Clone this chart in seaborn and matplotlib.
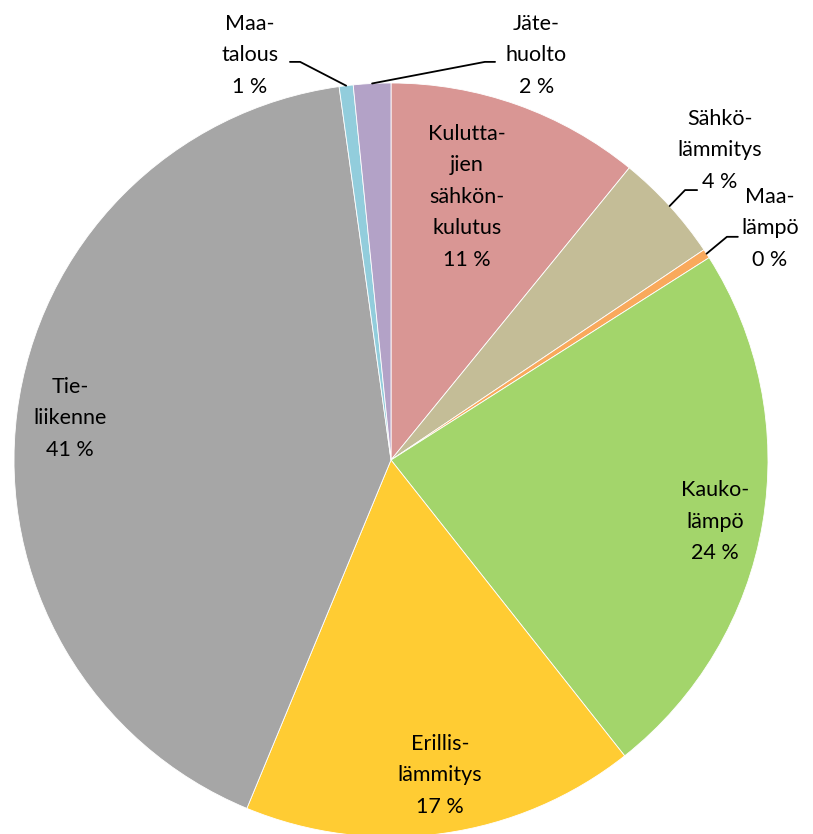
import numpy as np
import matplotlib
matplotlib.use("Agg")
import matplotlib.pyplot as plt
import seaborn as sns

# shares of emissions by sector, clockwise from 12 o'clock
labels = ["Kulutta-\njien\nsähkön-\nkulutus", "Sähkö-\nlämmitys", "Maa-\nlämpö",
          "Kauko-\nlämpö", "Erillis-\nlämmitys", "Tie-\nliikenne", "Maa-\ntalous",
          "Jäte-\nhuolto"]
values = [10.9, 4.7, 0.4, 23.4, 16.9, 41.6, 0.6, 1.6]
shown_pct = ["11 %", "4 %", "0 %", "24 %", "17 %", "41 %", "1 %", "2 %"]
colors = ["#D99694", "#C4BD97", "#F9A95C", "#A3D56B", "#FFCC33", "#A6A6A6",
          "#92CDDC", "#B3A2C7"]

sns.set_theme(style="white")
plt.rcParams["font.family"] = ["Lato", "DejaVu Sans"]

fig = plt.figure(figsize=(8.13, 8.34), dpi=100)
ax = fig.add_axes([14 / 813, -3 / 834, 754 / 813, 754 / 834])

wedges, _ = ax.pie(values, colors=colors, startangle=90, counterclock=False,
                   radius=1.0, wedgeprops=dict(edgecolor="white", linewidth=0.6))
ax.set_xlim(-1, 1)
ax.set_ylim(-1, 1)
ax.axis("off")

# label placement: (x, y) in pie units, and leader line (elbow, end) for small slices
label_pos = [(0.202, 0.698), (0.873, 0.822), (1.005, 0.615), (0.859, -0.164),
             (0.130, -0.836), (-0.851, 0.111), (-0.374, 1.074), (0.385, 1.074)]
leaders = {1: [(0.780, 0.716), (0.812, 0.716)],
           2: [(0.891, 0.592), (0.920, 0.592)],
           6: [(-0.241, 1.056), (-0.268, 1.056)],
           7: [(0.249, 1.056), (0.276, 1.056)]}

for i, w in enumerate(wedges):
    x, y = label_pos[i]
    ax.text(x, y, labels[i] + "\n" + shown_pct[i], ha="center", va="center",
            fontsize=15.5, linespacing=1.72, color="black")
    if i in leaders:
        mid = np.deg2rad((w.theta1 + w.theta2) / 2)
        pts = [(np.cos(mid), np.sin(mid))] + leaders[i]
        ax.plot([p[0] for p in pts], [p[1] for p in pts], color="black",
                linewidth=1.3, clip_on=False)

fig.savefig("out.png", dpi=100)
